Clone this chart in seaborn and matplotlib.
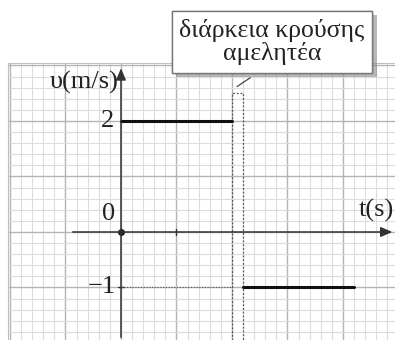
import numpy as np
import pandas as pd
import seaborn as sns
import matplotlib.pyplot as plt
import matplotlib.patheffects as pe
from matplotlib.ticker import MultipleLocator

# velocity segments (t in s, v in m/s)
t_before = [0.0, 2.0]
v_before = [2.0, 2.0]
t_after = [2.2, 4.2]
v_after = [-1.0, -1.0]
collision = [2.0, 2.2]      # drawn wider than real, duration is negligible
collision_top = 2.5
box_text = "διάρκεια κρούσης\nαμελητέα"

df = pd.DataFrame({
    't': t_before + t_after,
    'v': v_before + v_after,
    'seg': ['before'] * 2 + ['after'] * 2,
})

sns.set_style("white")
plt.rcParams['font.family'] = ['Liberation Serif', 'DejaVu Serif']

fig = plt.figure(figsize=(3.95, 3.40), dpi=100)
ax = fig.add_axes([8 / 395, 0, 387 / 395, 277 / 340])
ax.set_xlim(-2.036, 4.937)
ax.set_ylim(-1.946, 3.045)

# graph paper
ax.xaxis.set_major_locator(MultipleLocator(1))
ax.yaxis.set_major_locator(MultipleLocator(1))
ax.xaxis.set_minor_locator(MultipleLocator(0.2))
ax.yaxis.set_minor_locator(MultipleLocator(0.2))
ax.grid(which='minor', color='#dcdcdc', lw=0.8)
ax.grid(which='major', color='#b4b4b4', lw=1.0)
ax.tick_params(which='both', length=0, labelbottom=False, labelleft=False)
for s in ['right', 'bottom']:
    ax.spines[s].set_visible(False)
for s in ['top', 'left']:
    ax.spines[s].set_color('#c0c0c0')
ax.set_axisbelow(True)

# axes with arrows
ax.annotate('', xy=(4.94, 0), xytext=(-0.92, 0),
            arrowprops=dict(arrowstyle='-|>,head_length=0.7,head_width=0.3', color='#333333', lw=1.1))
ax.annotate('', xy=(0, 3.0), xytext=(0, -1.95),
            arrowprops=dict(arrowstyle='-|>,head_length=0.7,head_width=0.3', color='#333333', lw=1.1))
ax.plot([0], [0], 'o', color='#222222', ms=4)
ax.plot([1, 1], [-0.06, 0.06], color='#333333', lw=1)
ax.plot([-0.06, 0.06], [-1, -1], color='#333333', lw=1)

# dotted guide for v = -1
ax.plot([0, collision[0]], [-1, -1], color='#555555', lw=0.8, ls=(0, (1, 1.5)))

# collision window
ax.plot([collision[0], collision[0], collision[1], collision[1]],
        [-1.95, collision_top, collision_top, -1.95],
        color='#555555', lw=0.9, ls=(0, (1.5, 1.5)))

sns.lineplot(data=df, x='t', y='v', units='seg', estimator=None,
             color='#111111', lw=2.2, ax=ax, legend=False)
ax.set_xlabel('')
ax.set_ylabel('')

# labels
txt = dict(color='#222222', fontsize=19)
ax.text(-0.05, 2.7, 'υ(m/s)', ha='right', va='center', **txt)
ax.text(-0.12, 2.0, '2', ha='right', va='center', **txt)
ax.text(-0.1, 0.33, '0', ha='right', va='center', **txt)
ax.text(-0.1, -1.0, '−1', ha='right', va='center', **txt)
ax.text(4.91, 0.38, 't(s)', ha='right', va='center', **txt)

# callout box
ax.plot([2.09, 2.33], [2.62, 2.78], color='#444444', lw=0.9, clip_on=False)
t = fig.text(272 / 395, 1 - 42 / 340, box_text, ha='center', va='center',
             fontsize=18.5, color='#222222', linespacing=1.05,
             bbox=dict(boxstyle='square,pad=0.3', fc='white', ec='#777777', lw=1))
t.get_bbox_patch().set_path_effects([
    pe.withSimplePatchShadow(offset=(3, -3), shadow_rgbFace='#888888', alpha=0.6),
    pe.Normal()])

fig.savefig('out.png', dpi=100)
